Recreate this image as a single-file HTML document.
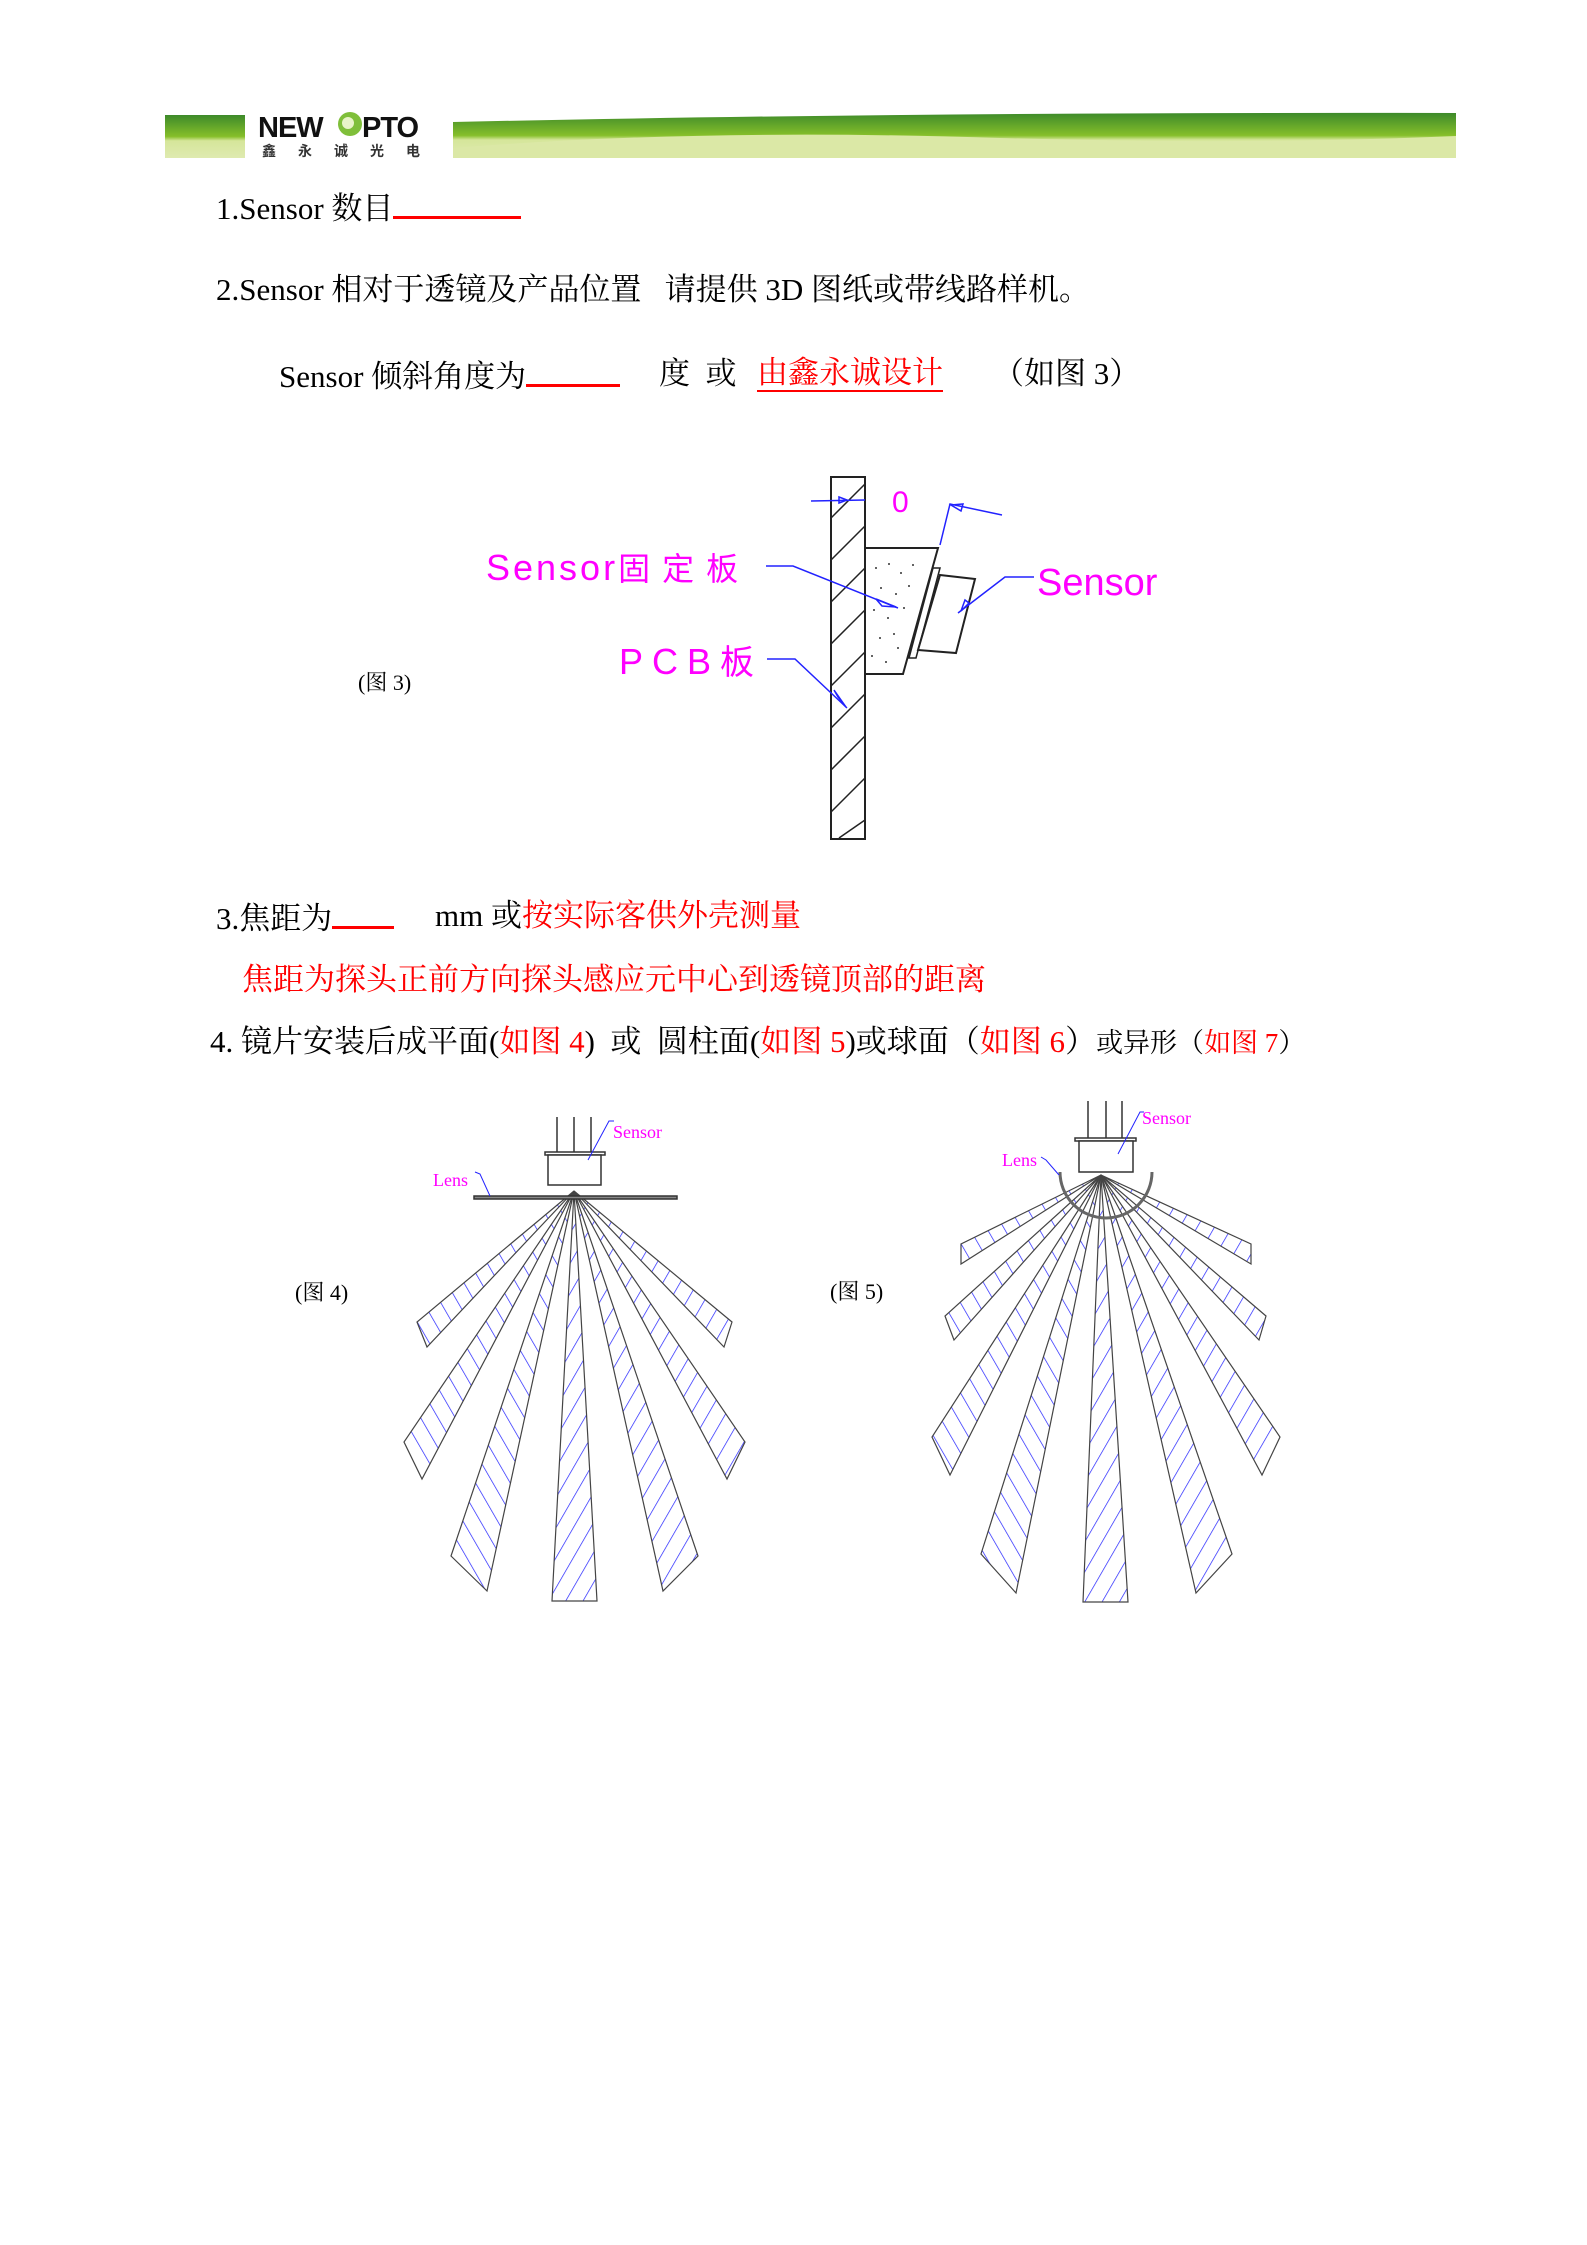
<!DOCTYPE html>
<html><head><meta charset="utf-8"><style>
body{margin:0;background:#fff}
#p{position:relative;width:1587px;height:2245px;overflow:hidden;background:#fff}
.t{position:absolute;white-space:nowrap;font-family:"Liberation Serif","Noto Serif CJK SC",serif;font-size:31px;color:#000;line-height:36px}
.r{color:#f00}
.u{display:inline-block;border-bottom:3px solid #f00;height:28px;vertical-align:baseline}
svg{position:absolute;left:0;top:0}
</style></head><body><div id="p">
<svg width="1587" height="2245" viewBox="0 0 1587 2245">
<defs>
<linearGradient id="g1" x1="0" y1="0" x2="0" y2="1"><stop offset="0" stop-color="#3d8a2a"/><stop offset="0.5" stop-color="#86bf2a"/><stop offset="0.6" stop-color="#d5e69a"/><stop offset="1" stop-color="#dfeab0"/></linearGradient>
<pattern id="hb" patternUnits="userSpaceOnUse" width="15" height="15" patternTransform="rotate(30)"><line x1="0" y1="0" x2="0" y2="15" stroke="#2020ff" stroke-width="1.4"/></pattern>
<pattern id="hf" patternUnits="userSpaceOnUse" width="15" height="15" patternTransform="rotate(-30)"><line x1="0" y1="0" x2="0" y2="15" stroke="#2020ff" stroke-width="1.4"/></pattern>
</defs>
<!-- header -->
<rect x="165" y="115" width="80" height="43" fill="url(#g1)"/>
<path d="M453 122 Q900 112 1456 113 L1456 158 L453 158 Z" fill="url(#g1)"/>
<path d="M453 148 Q700 128 1000 138 Q1250 145 1456 136 L1456 158 L453 158Z" fill="#dbe8a6"/>
<text x="258" y="137" font-family="Liberation Sans,sans-serif" font-weight="bold" font-size="29" fill="#111" letter-spacing="-1">NEW</text>
<circle cx="350" cy="124" r="12" fill="#7fbf3a"/><circle cx="348" cy="123" r="6" fill="#e8f4c8"/>
<text x="362" y="137" font-family="Liberation Sans,sans-serif" font-weight="bold" font-size="29" fill="#111" letter-spacing="-1">PTO</text>
<text x="262" y="156" font-family="Noto Sans CJK SC,sans-serif" font-weight="bold" font-size="14" fill="#333" letter-spacing="22">鑫永诚光电</text>

<!-- fig3 -->
<g transform="translate(-4,-2)">
<rect x="835" y="479" width="34" height="362" fill="#fff" stroke="#222" stroke-width="2"/>
<g stroke="#222" stroke-width="1.5">
<line x1="835" y1="520" x2="869" y2="486"/><line x1="835" y1="562" x2="869" y2="528"/><line x1="835" y1="604" x2="869" y2="570"/><line x1="835" y1="646" x2="869" y2="612"/><line x1="835" y1="688" x2="869" y2="654"/><line x1="835" y1="730" x2="869" y2="696"/><line x1="835" y1="772" x2="869" y2="738"/><line x1="835" y1="814" x2="869" y2="780"/><line x1="843" y1="840" x2="869" y2="822"/>
</g>
<polygon points="869,550 942,550 907,676 869,676" fill="#fff" stroke="#222" stroke-width="2"/>
<g fill="#333"><circle cx="880" cy="570" r="1"/><circle cx="893" cy="566" r="1"/><circle cx="905" cy="575" r="1"/><circle cx="917" cy="567" r="1"/><circle cx="885" cy="590" r="1"/><circle cx="900" cy="596" r="1"/><circle cx="913" cy="588" r="1"/><circle cx="878" cy="612" r="1"/><circle cx="892" cy="620" r="1"/><circle cx="908" cy="610" r="1"/><circle cx="884" cy="640" r="1"/><circle cx="898" cy="636" r="1"/><circle cx="876" cy="658" r="1"/><circle cx="890" cy="664" r="1"/><circle cx="902" cy="650" r="1"/></g>
<polygon points="937,570 944,570 920,660 913,660" fill="#fff" stroke="#222" stroke-width="1.5"/>
<polygon points="944,577 979,581 960,655 922,652" fill="#fff" stroke="#222" stroke-width="2"/>
<g stroke="#22f" stroke-width="1.5" fill="none">
<line x1="815" y1="503" x2="869" y2="502"/><path d="M843 499 l8 3 -8 3z"/>
<polyline points="944,547 954,506 1006,517"/><path d="M955 507 l12 -1 -2 7z"/>
<polyline points="770,568 797,568 902,610"/><path d="M880 601 l20 8 -14 -1z"/>
<polyline points="771,661 799,661 851,710"/><path d="M838 692 l12 17 -8 -10z"/>
<polyline points="1038,579 1009,579 962,615"/><path d="M973 605 l-8 8 4 -11z"/>
</g>
</g>
<g font-family="Liberation Sans,sans-serif" fill="#f0f">
<text x="486" y="580" font-size="36" letter-spacing="3">Sensor<tspan font-family="Noto Sans CJK SC,sans-serif" font-size="32" letter-spacing="12">固定板</tspan></text>
<text x="619" y="674" font-size="36" letter-spacing="9">PCB<tspan font-family="Noto Sans CJK SC,sans-serif" font-size="34">板</tspan></text>
<text x="1037" y="595" font-size="38">Sensor</text>
<text x="892" y="512" font-size="30">0</text>
</g>
<text x="358" y="690" font-family="Liberation Serif,Noto Serif CJK SC,serif" font-size="22">(图 3)</text>

<!-- fig4 -->
<g fill="url(#hf)" stroke="#444" stroke-width="1.2">
<polygon points="574,1191 417,1322 427,1347"/>
<polygon points="574,1191 404,1442 422,1479"/>
<polygon points="574,1191 451,1556 487,1591"/>
</g>
<g fill="url(#hb)" stroke="#444" stroke-width="1.2">
<polygon points="574,1191 552,1601 597,1601"/>
<polygon points="574,1191 663,1591 698,1556"/>
<polygon points="574,1191 727,1479 745,1442"/>
<polygon points="574,1191 724,1347 732,1322"/>
</g>
<g stroke="#333" stroke-width="1.5" fill="#fff">
<line x1="557" y1="1117" x2="557" y2="1152"/><line x1="574" y1="1117" x2="574" y2="1152"/><line x1="591" y1="1117" x2="591" y2="1152"/>
<rect x="545" y="1152" width="60" height="3"/>
<rect x="548" y="1155" width="53" height="30"/>
<rect x="474" y="1196" width="203" height="3" fill="#888"/>
</g>
<g stroke="#22f" stroke-width="1" fill="none"><polyline points="614,1121 609,1121 588,1160"/><polyline points="475,1172 480,1174 490,1196"/></g>
<g font-family="Liberation Serif,serif" fill="#f0f" font-size="18"><text x="613" y="1138">Sensor</text><text x="433" y="1186">Lens</text></g>
<text x="295" y="1300" font-family="Liberation Serif,Noto Serif CJK SC,serif" font-size="22">(图 4)</text>

<!-- fig5 -->
<g fill="url(#hf)" stroke="#444" stroke-width="1.2">
<polygon points="1101,1175 961,1244 961,1264"/>
<polygon points="1101,1175 945,1316 954,1340"/>
<polygon points="1101,1175 932,1437 950,1475"/>
<polygon points="1101,1175 981,1554 1016,1593"/>
</g>
<g fill="url(#hb)" stroke="#444" stroke-width="1.2">
<polygon points="1101,1175 1083,1602 1128,1602"/>
<polygon points="1101,1175 1196,1593 1232,1554"/>
<polygon points="1101,1175 1262,1475 1280,1437"/>
<polygon points="1101,1175 1259,1340 1266,1316"/>
<polygon points="1101,1175 1251,1244 1251,1264"/>
</g>
<path d="M1060 1172 A46 46 0 0 0 1152 1172" fill="none" stroke="#666" stroke-width="3"/>
<g stroke="#333" stroke-width="1.5" fill="#fff">
<line x1="1088" y1="1101" x2="1088" y2="1138"/><line x1="1106" y1="1101" x2="1106" y2="1138"/><line x1="1122" y1="1101" x2="1122" y2="1138"/>
<rect x="1075" y="1138" width="61" height="3"/>
<rect x="1079" y="1141" width="54" height="31"/>
</g>
<g stroke="#22f" stroke-width="1" fill="none"><polyline points="1144,1112 1140,1112 1118,1154"/><polyline points="1041,1157 1046,1160 1059,1175"/></g>
<g font-family="Liberation Serif,serif" fill="#f0f" font-size="18"><text x="1142" y="1124">Sensor</text><text x="1002" y="1166">Lens</text></g>
<text x="830" y="1299" font-family="Liberation Serif,Noto Serif CJK SC,serif" font-size="22">(图 5)</text>
</svg>

<div class="t" style="left:216px;top:188px">1.Sensor 数目<span class="u" style="width:128px"></span></div>
<div class="t" style="left:216px;top:272px">2.Sensor 相对于透镜及产品位置&nbsp;&nbsp; 请提供 3D 图纸或带线路样机。</div>
<div class="t" style="left:279px;top:356px">Sensor 倾斜角度为<span class="u" style="width:94px"></span></div>
<div class="t" style="left:659px;top:356px">度&nbsp; 或</div>
<div class="t r" style="left:757px;top:356px;border-bottom:2px solid #f00;line-height:34px">由鑫永诚设计</div>
<div class="t" style="left:993px;top:356px">（如图 3）</div>
<div class="t" style="left:216px;top:898px">3.焦距为<span class="u" style="width:62px"></span></div>
<div class="t" style="left:435px;top:898px">mm 或<span class="r">按实际客供外壳测量</span></div>
<div class="t r" style="left:242px;top:962px">焦距为探头正前方向探头感应元中心到透镜顶部的距离</div>
<div class="t" style="left:210px;top:1024px">4. 镜片安装后成平面(<span class="r">如图 4</span>)&nbsp; 或&nbsp; 圆柱面(<span class="r">如图 5</span>)或球面（<span class="r">如图 6</span>）<span style="font-size:27px">或异形（<span class="r">如图 7</span>）</span></div>
</div></body></html>
